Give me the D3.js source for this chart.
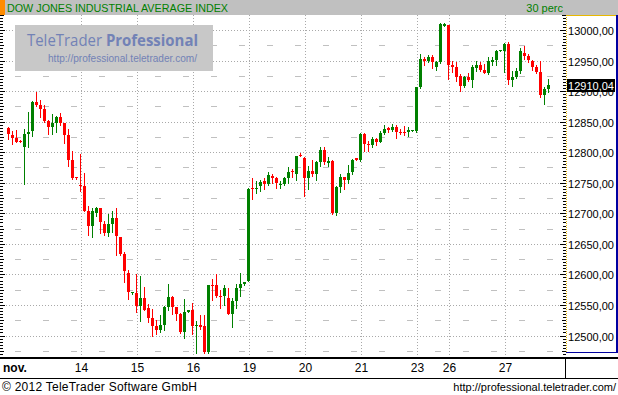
<!DOCTYPE html>
<html>
<head>
<meta charset="utf-8">
<script src="https://cdn.jsdelivr.net/npm/d3@7"></script>
<style>
body{margin:0;background:#fff;}
svg{display:block;font-family:"Liberation Sans",Arial,sans-serif;}
</style>
</head>
<body>
<script>
/* DJIA 30 min candles, TeleTrader look */
var open = [12840,12828,12823,12819,12809,12830,12834,12882,12877,12871,
	12851,12842,12848,12858,12848,12828,12788,12759,12747,12745,
	12703,12679,12701,12708,12683,12667,12683,12693,12661,12634,
	12603,12569,12570,12549,12562,12545,12529,12515,12509,12518,
	12546,12563,12546,12536,12505,12539,12541,12515,12517,12515,
	12473,12583,12582,12565,12564,12562,12536,12557,12578,12585,
	12590,12741,12739,12745,12753,12748,12761,12757,12747,12748,
	12757,12769,12765,12796,12791,12757,12770,12765,12784,12803,
	12783,12786,12700,12743,12759,12755,12768,12790,12788,12830,
	12814,12811,12822,12817,12832,12839,12836,12841,12833,12833,
	12833,12835,12834,12906,12953,12950,12956,12940,12947,13007,
	13008,12942,12940,12924,12908,12923,12918,12938,12942,12935,
	12929,12947,12951,12966,12965,12977,12918,12923,12933,12963,
	12958,12949,12940,12931,12894,12904];
var high = [12842,12835,12837,12820,12838,12866,12884,12899,12886,12877,
	12853,12863,12859,12864,12848,12838,12802,12760,12797,12766,
	12712,12708,12711,12709,12688,12699,12703,12708,12662,12636,
	12608,12572,12600,12598,12580,12552,12544,12525,12534,12549,
	12585,12564,12547,12537,12560,12542,12553,12524,12534,12534,
	12583,12592,12601,12574,12583,12577,12562,12585,12603,12587,
	12741,12757,12753,12755,12757,12768,12765,12760,12753,12760,
	12776,12773,12794,12798,12792,12778,12788,12785,12809,12809,
	12792,12788,12745,12764,12760,12779,12789,12791,12831,12831,
	12819,12825,12824,12835,12845,12841,12846,12845,12838,12843,
	12842,12837,12907,12961,12956,12959,12959,12949,13011,13011,
	13009,12950,12947,12928,12925,12930,12942,12949,12948,12944,
	12955,12955,12968,12967,12979,12981,12933,12938,12971,12974,
	12961,12951,12942,12950,12907,12920];
var low = [12821,12813,12816,12816,12748,12809,12827,12875,12858,12850,
	12830,12830,12833,12845,12815,12778,12756,12756,12737,12703,
	12665,12662,12695,12668,12664,12663,12670,12631,12632,12587,
	12559,12568,12538,12523,12541,12522,12500,12502,12505,12509,
	12541,12535,12525,12504,12496,12538,12503,12471,12510,12472,
	12471,12558,12563,12545,12550,12535,12514,12545,12565,12583,
	12589,12724,12734,12737,12739,12747,12750,12741,12742,12746,
	12750,12760,12755,12794,12729,12740,12761,12754,12777,12781,
	12777,12699,12698,12735,12739,12750,12765,12788,12786,12802,
	12802,12808,12811,12816,12829,12833,12835,12824,12830,12828,
	12827,12834,12833,12905,12942,12947,12937,12935,12946,13006,
	12919,12932,12917,12900,12907,12917,12907,12933,12933,12929,
	12928,12942,12942,12965,12931,12912,12909,12921,12929,12953,
	12947,12935,12930,12891,12879,12898];
var close = [12830,12824,12817,12817,12830,12833,12882,12877,12871,12851,
	12842,12848,12858,12848,12828,12788,12757,12757,12745,12704,
	12679,12703,12708,12685,12667,12683,12693,12663,12634,12605,
	12571,12571,12549,12562,12542,12529,12515,12509,12518,12546,
	12563,12547,12536,12505,12539,12541,12515,12517,12514,12473,
	12582,12582,12565,12564,12577,12536,12557,12578,12585,12587,
	12740,12740,12742,12751,12748,12763,12757,12750,12748,12757,
	12768,12767,12794,12795,12757,12770,12765,12784,12803,12784,
	12786,12700,12743,12760,12755,12766,12788,12788,12830,12814,
	12811,12822,12817,12832,12838,12836,12841,12833,12832,12832,
	12837,12837,12906,12953,12950,12955,12947,12948,13010,13010,
	12942,12940,12923,12908,12923,12918,12940,12942,12934,12929,
	12949,12951,12966,12967,12977,12918,12923,12933,12965,12958,
	12951,12940,12931,12894,12904,12910.04];

var dayLabels = ["14","15","16","19","20","21","23","26","27"];
var dayStart = [18,32,46,60,74,88,102,110,124];
var monthLabel = "nov.";
var yTicks = [12500,12550,12600,12650,12700,12750,12800,12850,12900,12950,13000];
var lastValue = 12910.04;

var width = 618, height = 395;
var plotRight = 566, plotTop = 15, plotBottom = 357;

var svg = d3.select("body").append("svg").attr("width",width).attr("height",height);
svg.append("rect").attr("width",width).attr("height",height).attr("fill","#fff");

var n = open.length;
var x = d3.scaleLinear().domain([0,n-1]).range([8.5,8.5+4*(n-1)]);
var y = d3.scaleLinear().domain([12500,13000]).range([335.5,30]);
var fmt = function(v){return d3.format(".2f")(v).replace(".",",");};

// grid
var grid = svg.append("g").attr("shape-rendering","crispEdges");
grid.selectAll(".hdot").data(yTicks).enter().append("line")
	.attr("x1",0).attr("x2",plotRight)
	.attr("y1",function(d){return Math.round(y(d))+0.5;}).attr("y2",function(d){return Math.round(y(d))+0.5;})
	.attr("stroke","#a9a9a9").attr("stroke-dasharray","1,2");
grid.selectAll(".hdash").data(yTicks.map(function(d){return d-25;})).enter().append("line")
	.attr("x1",0).attr("x2",plotRight)
	.attr("y1",function(d){return Math.round(y(d))+0.5;}).attr("y2",function(d){return Math.round(y(d))+0.5;})
	.attr("stroke","#c0c0c0").attr("stroke-dasharray","6,22").attr("stroke-dashoffset",13);
grid.selectAll(".vdot").data(dayStart).enter().append("line")
	.attr("x1",function(d){return x(d)+1;}).attr("x2",function(d){return x(d)+1;})
	.attr("y1",plotTop).attr("y2",plotBottom)
	.attr("stroke","#a9a9a9").attr("stroke-dasharray","1,2");

// side ticks every 5 points
var minor = d3.range(12470,13030,5);
var ticks = svg.append("g").attr("shape-rendering","crispEdges");
ticks.selectAll(".lt").data(minor).enter().append("line")
	.attr("x1",0).attr("x2",function(d){return d%50===0?5:(d%25===0?4:3);})
	.attr("y1",function(d){return Math.round(y(d))+0.5;}).attr("y2",function(d){return Math.round(y(d))+0.5;})
	.attr("stroke","#000");
ticks.selectAll(".rt").data(minor).enter().append("line")
	.attr("x1",function(d){return plotRight-(d%50===0?6:(d%25===0?4:3));}).attr("x2",plotRight)
	.attr("y1",function(d){return Math.round(y(d))+0.5;}).attr("y2",function(d){return Math.round(y(d))+0.5;})
	.attr("stroke","#000");

// watermark
svg.append("rect").attr("x",15).attr("y",25).attr("width",198).attr("height",46).attr("fill","#c8c8c8");
var wm = svg.append("text").attr("x",27).attr("y",46).attr("fill","#7282b6")
	.attr("font-family","'Open Sans','Noto Sans',sans-serif").attr("font-size","16px")
	.attr("textLength",171).attr("lengthAdjust","spacingAndGlyphs");
wm.append("tspan").text("TeleTrader ");
wm.append("tspan").attr("font-weight","bold").text("Professional");
svg.append("text").attr("x",48).attr("y",62).attr("fill","#7282b6")
	.attr("font-size","10.5px").attr("textLength",149).attr("lengthAdjust","spacingAndGlyphs")
	.text("http://professional.teletrader.com/");

// candles
var idx = d3.range(n);
var candles = svg.append("g").attr("shape-rendering","crispEdges");
var col = function(i){return close[i]>=open[i]?"#008000":"#ff0000";};
candles.selectAll(".wick").data(idx).enter().append("line")
	.attr("x1",function(i){return x(i);}).attr("x2",function(i){return x(i);})
	.attr("y1",function(i){return Math.round(y(high[i]));})
	.attr("y2",function(i){return Math.round(y(low[i]))+1;})
	.attr("stroke",col);
candles.selectAll(".body").data(idx).enter().append("rect")
	.attr("x",function(i){return x(i)-1.5;}).attr("width",3)
	.attr("y",function(i){return Math.round(y(Math.max(open[i],close[i])));})
	.attr("height",function(i){return Math.max(1,Math.round(y(Math.min(open[i],close[i])))-Math.round(y(Math.max(open[i],close[i]))));})
	.attr("fill",col);

// right value panel
var panel = svg.append("g");
panel.append("rect").attr("x",plotRight).attr("y",plotTop).attr("width",width-plotRight).attr("height",338).attr("fill","#fff");
panel.selectAll(".ylab").data(yTicks).enter().append("text")
	.attr("x",614).attr("y",function(d){return y(d)+5;})
	.attr("text-anchor","end").attr("font-size","11px").attr("fill","#000")
	.text(fmt);
panel.append("rect").attr("x",567).attr("y",Math.round(y(lastValue))-6).attr("width",48).attr("height",13).attr("fill","#000");
panel.append("text").attr("x",614).attr("y",Math.round(y(lastValue))+5)
	.attr("text-anchor","end").attr("font-size","11px").attr("fill","#fff").text(fmt(lastValue));
panel.append("line").attr("x1",566.5).attr("x2",566.5).attr("y1",15).attr("y2",352)
	.attr("stroke","#e8b800").attr("stroke-dasharray","1,1").attr("shape-rendering","crispEdges");
panel.append("line").attr("x1",566).attr("x2",616).attr("y1",15.5).attr("y2",15.5)
	.attr("stroke","#e8b800").attr("shape-rendering","crispEdges");
panel.append("line").attr("x1",617).attr("x2",617).attr("y1",15).attr("y2",353)
	.attr("stroke","#0000a0").attr("stroke-width",2).attr("shape-rendering","crispEdges");
panel.append("line").attr("x1",566).attr("x2",618).attr("y1",352.5).attr("y2",352.5)
	.attr("stroke","#0000a0").attr("shape-rendering","crispEdges");

// header
svg.append("rect").attr("width",width).attr("height",15).attr("fill","#c0c0c0");
svg.append("rect").attr("width",5).attr("height",15).attr("fill","#ff8c00");
svg.append("text").attr("x",7).attr("y",12).attr("font-size","10.5px").attr("fill","#008000")
	.attr("textLength",221).attr("lengthAdjust","spacingAndGlyphs")
	.text("DOW JONES INDUSTRIAL AVERAGE INDEX");
svg.append("text").attr("x",563).attr("y",12).attr("text-anchor","end").attr("font-size","11px").attr("fill","#008000")
	.text("30 perc");

// x axis band
var xa = svg.append("g").attr("shape-rendering","crispEdges");
xa.append("rect").attr("x",0).attr("y",357).attr("width",width).attr("height",21).attr("fill","#fff");
xa.append("line").attr("x1",0).attr("x2",width).attr("y1",357.5).attr("y2",357.5).attr("stroke","#000").attr("stroke-width",2);
xa.append("line").attr("x1",0).attr("x2",width).attr("y1",378.5).attr("y2",378.5).attr("stroke","#000");
xa.append("line").attr("x1",565.5).attr("x2",565.5).attr("y1",357).attr("y2",378).attr("stroke","#000");
svg.selectAll(".xlab").data(dayStart).enter().append("text")
	.attr("x",function(d,i){return x(d)+1;}).attr("y",372)
	.attr("text-anchor","middle").attr("font-size","12px").attr("fill","#000")
	.text(function(d,i){return dayLabels[i];});
svg.append("text").attr("x",3).attr("y",372).attr("font-size","12px").attr("font-weight","bold").text(monthLabel);

// footer
svg.append("text").attr("x",2).attr("y",391).attr("font-size","12px").attr("fill","#000")
	.attr("textLength",195).attr("lengthAdjust","spacing")
	.text("\u00a9 2012 TeleTrader Software GmbH");
svg.append("text").attr("x",616).attr("y",391).attr("text-anchor","end").attr("font-size","11px").attr("fill","#000")
	.text("http://professional.teletrader.com/");
</script>
</body>
</html>
